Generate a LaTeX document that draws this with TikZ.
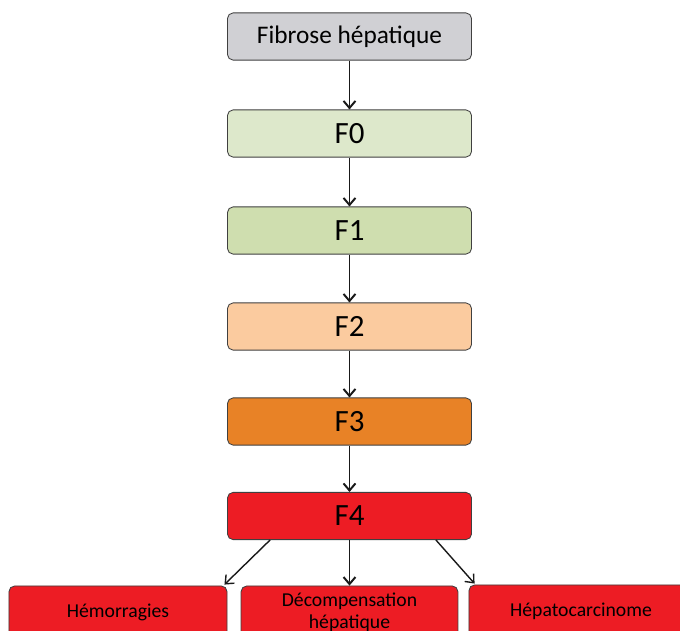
\documentclass[tikz,border=0pt]{standalone}
\usepackage{fontspec}
\setmainfont{Carlito}
\usetikzlibrary{calc}
\usetikzlibrary{positioning}
\usetikzlibrary{arrows.meta}

\definecolor{grisbox}{RGB}{208,208,212}
\definecolor{fzero}{RGB}{221,232,203}
\definecolor{fone}{RGB}{207,222,175}
\definecolor{ftwo}{RGB}{251,203,159}
\definecolor{fthree}{RGB}{232,130,38}
\definecolor{ffour}{RGB}{237,28,36}

\begin{document}
\begin{tikzpicture}[
    x=0.025cm, y=-0.025cm,
    stage/.style={draw=black!75, line width=0.6pt, rounded corners=4pt,
        minimum width=6.1cm, minimum height=1.18cm, inner sep=0pt},
    issue/.style={draw=black!75, line width=0.6pt, rounded corners=4pt, fill=ffour,
        minimum height=1.3cm, inner sep=0pt, align=center,
        font=\fontsize{14}{15.5}\selectfont},
    lab/.style={font=\fontsize{18}{20}\selectfont},
    big/.style={font=\fontsize{22}{24}\selectfont},
    arr/.style={line width=1.4pt, black!90, -{Straight Barb[length=5pt,width=8.5pt]}}
]
% page frame
\clip (0,0) rectangle (680,631);

% Stages
\node[stage, fill=grisbox, lab] (fib) at (349.5,36.5) {Fibrose hépatique};
\node[stage, fill=fzero, big] (F0) at (349.5,133.5) {F0};
\node[stage, fill=fone, big] (F1) at (349.5,230.5) {F1};
\node[stage, fill=ftwo, big] (F2) at (349.5,326.5) {F2};
\node[stage, fill=fthree, big] (F3) at (349.5,421.5) {F3};
\node[stage, fill=ffour, big] (F4) at (349.5,516) {F4};

% Complications
\node[issue, minimum width=5.45cm] (hem) at (118,612) {Hémorragies};
\node[issue, minimum width=5.42cm] (dec) at (349.5,612) {Décompensation\\hépatique};
\node[issue, minimum width=5.6cm] (hep) at (581,611) {Hépatocarcinome};

% Arrows
\draw[arr] (fib.south) -- (F0.north);
\draw[arr] (F0.south) -- (F1.north);
\draw[arr] (F1.south) -- (F2.north);
\draw[arr] (F2.south) -- (F3.north);
\draw[arr] (F3.south) -- (F4.north);

\draw[arr, line width=1pt] ($(F4.south west)+(43,0)$) -- ($(hem.north east)+(-3,-1)$);
\draw[arr] (F4.south) -- (dec.north);
\draw[arr, line width=1pt] ($(F4.south east)+(-36,0)$) -- ($(hep.north west)+(6,-1)$);

\end{tikzpicture}
\end{document}
